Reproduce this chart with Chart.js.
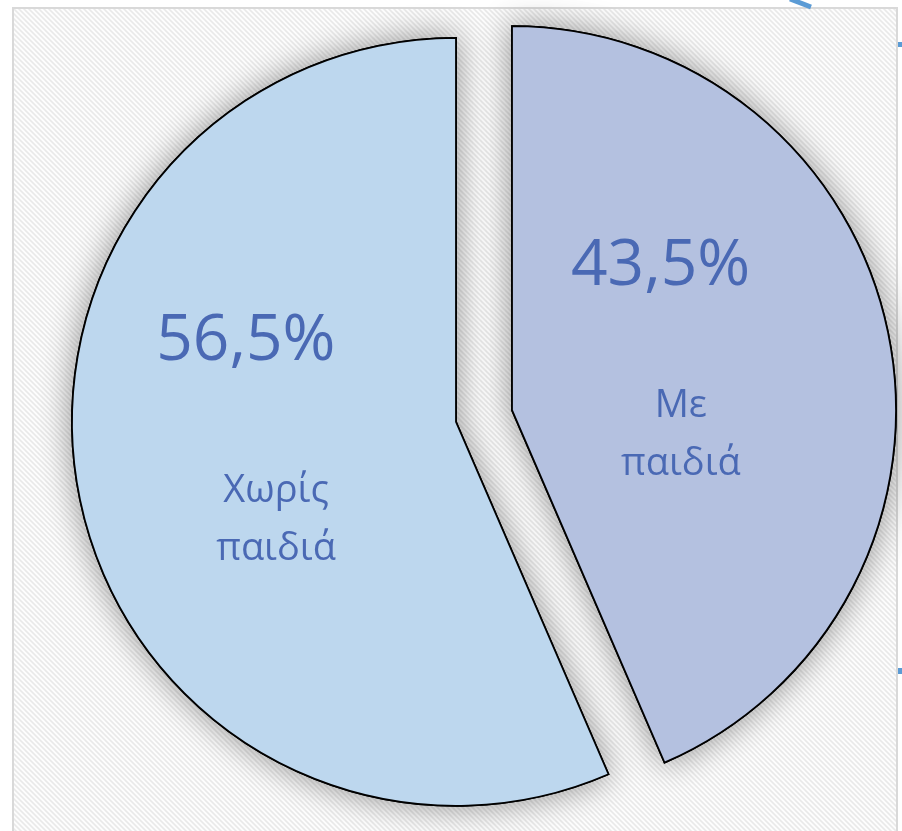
<!DOCTYPE html>
<html>
<head>
<meta charset="utf-8">
<script src="https://cdn.jsdelivr.net/npm/chart.js@4/dist/chart.umd.min.js"></script>
<style>
  html, body { margin: 0; padding: 0; background: #ffffff; }
  #wrap { width: 902px; height: 831px; position: relative; }
</style>
</head>
<body>
<div id="wrap"><canvas id="c" width="902" height="831"></canvas></div>
<script>
// ---- data ----
const categories = ['Με παιδιά', 'Χωρίς παιδιά'];
const categoryLines = [['Με', 'παιδιά'], ['Χωρίς', 'παιδιά']];
const shares = [43.5, 56.5];

// ---- style ----
const sliceColors = ['#b4c1e0', '#bdd7ee'];
const textColor = '#4a69b4';
const EXPLODE = 28.6;
// label placement relative to each exploded slice apex: [distance, angle clockwise from 12 o'clock]
const pctPlace  = [[194, 50.0], [219, 286.4]];
const namePlace = [[169, 92.4], [197, 246.0]];

function makePattern(ctx) {
  const s = 5;
  const t = document.createElement('canvas');
  t.width = s; t.height = s;
  const g = t.getContext('2d');
  g.fillStyle = '#fdfdfd';
  g.fillRect(0, 0, s, s);
  g.strokeStyle = '#e9e9e9';
  g.lineWidth = 1.6;
  for (const k of [-s, 0, s]) {
    g.beginPath();
    g.moveTo(k - 1, -1);
    g.lineTo(k + s + 1, s + 1);
    g.stroke();
  }
  return ctx.createPattern(t, 'repeat');
}

const backgroundPlugin = {
  id: 'bg',
  beforeDraw(chart) {
    const ctx = chart.ctx;
    ctx.save();
    ctx.fillStyle = '#ffffff';
    ctx.fillRect(0, 0, chart.width, chart.height);
    ctx.fillStyle = makePattern(ctx);
    ctx.fillRect(13, 8, 884, 830);
    ctx.strokeStyle = '#d9d9d9';
    ctx.lineWidth = 2;
    ctx.strokeRect(13, 8, 884, 830);
    // fragments of neighbouring shapes
    ctx.strokeStyle = '#5b9bd5';
    ctx.lineWidth = 5;
    ctx.beginPath(); ctx.moveTo(790, -1); ctx.lineTo(811, 7); ctx.stroke();
    ctx.fillStyle = '#5b9bd5';
    ctx.fillRect(898, 42, 4, 5);
    ctx.fillRect(898, 668, 4, 6);
    ctx.restore();
  }
};

const explodePlugin = {
  id: 'explode',
  beforeDatasetsDraw(chart) {
    const ctx = chart.ctx;
    const arcs = chart.getDatasetMeta(0).data;
    arcs.forEach(arc => {
      if (arc._exploded) return;
      const orig = Object.getPrototypeOf(arc).draw;
      arc.draw = function (c, area) {
        const mid = (this.startAngle + this.endAngle) / 2;
        c.save();
        c.translate(Math.cos(mid) * EXPLODE, Math.sin(mid) * EXPLODE);
        orig.call(this, c, area);
        c.restore();
      };
      arc._exploded = true;
    });
    // shadow pass, then the normal pass paints flat slices over it
    ctx.save();
    ctx.shadowColor = 'rgba(0,0,0,0.40)';
    ctx.shadowBlur = 32;
    ctx.shadowOffsetX = 0;
    ctx.shadowOffsetY = 0;
    arcs.forEach(arc => arc.draw(ctx, chart.chartArea));
    ctx.restore();
  }
};

const labelPlugin = {
  id: 'labels',
  afterDatasetsDraw(chart) {
    const ctx = chart.ctx;
    const data = chart.data.datasets[0].data;
    const total = data.reduce((a, b) => a + b, 0);
    ctx.save();
    ctx.fillStyle = textColor;
    ctx.textAlign = 'center';
    ctx.textBaseline = 'alphabetic';
    chart.getDatasetMeta(0).data.forEach((arc, i) => {
      const mid = (arc.startAngle + arc.endAngle) / 2;
      const ax = arc.x + Math.cos(mid) * EXPLODE;
      const ay = arc.y + Math.sin(mid) * EXPLODE;
      const pos = (p) => {
        const a = (p[1] - 90) * Math.PI / 180;
        return [ax + Math.cos(a) * p[0], ay + Math.sin(a) * p[0]];
      };
      const pct = (data[i] / total * 100).toFixed(1).replace('.', ',') + '%';
      const [px, py] = pos(pctPlace[i]);
      ctx.font = '64px "Open Sans"';
      ctx.fillText(pct, px, py);
      const [nx, ny] = pos(namePlace[i]);
      ctx.font = '38px "Open Sans"';
      categoryLines[i].forEach((line, j) => ctx.fillText(line, nx, ny + j * 58));
    });
    ctx.restore();
  }
};

new Chart(document.getElementById('c'), {
  type: 'pie',
  data: {
    labels: categories,
    datasets: [{
      data: shares,
      backgroundColor: sliceColors,
      borderColor: '#000000',
      borderWidth: 1.8,
      borderJoinStyle: 'miter',
      clip: false
    }]
  },
  options: {
    responsive: false,
    animation: false,
    radius: 384,
    layout: { padding: { left: 66, right: 0, top: 1, bottom: 0 } },
    plugins: {
      legend: { display: false },
      tooltip: { enabled: false }
    },
    events: []
  },
  plugins: [backgroundPlugin, explodePlugin, labelPlugin]
});
</script>
</body>
</html>
